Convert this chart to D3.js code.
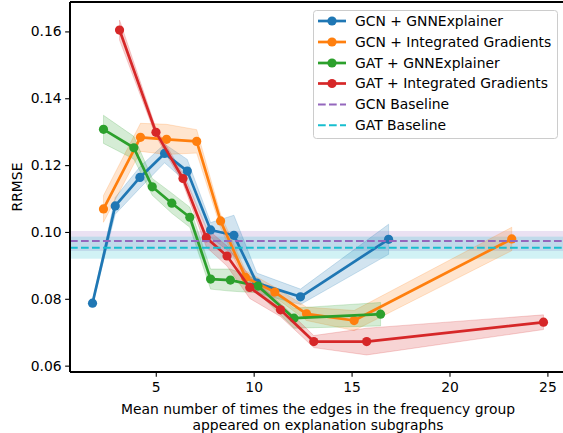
<!DOCTYPE html>
<html>
<head>
<meta charset="utf-8">
<script src="https://cdn.jsdelivr.net/npm/d3@7"></script>
<style>
  html, body { margin: 0; padding: 0; background: #fff; }
  svg { display: block; font-family: "DejaVu Sans", sans-serif; }
</style>
</head>
<body>
<svg id="chart" width="563" height="433"></svg>
<script>
// Mean edge-appearance counts (x), RRMSE means (y) and spreads (err) per setup
const gcnGnnX   = [1.77, 2.93, 4.19, 5.45, 6.61, 7.80, 8.99, 10.16, 12.39, 16.89];
const gcnGnnY   = [0.0787, 0.1078, 0.1163, 0.1235, 0.1182, 0.1006, 0.0990, 0.0847, 0.0806, 0.0978];
const gcnGnnErr = [0.0005, 0.0025, 0.0032, 0.0028, 0.0035, 0.0022, 0.0060, 0.0030, 0.0023, 0.0045];

const gcnIgX    = [2.33, 4.22, 5.55, 7.09, 8.31, 9.58, 11.08, 12.70, 15.13, 23.18];
const gcnIgY    = [0.1069, 0.1283, 0.1277, 0.1271, 0.1033, 0.0864, 0.0820, 0.0755, 0.0735, 0.0979];
const gcnIgErr  = [0.0040, 0.0042, 0.0045, 0.0035, 0.0020, 0.0020, 0.0015, 0.0020, 0.0030, 0.0035];

const gatGnnX   = [2.33, 3.88, 4.82, 5.82, 6.74, 7.80, 8.81, 10.22, 12.06, 16.48];
const gatGnnY   = [0.1307, 0.1252, 0.1135, 0.1086, 0.1044, 0.0859, 0.0856, 0.0838, 0.0742, 0.0754];
const gatGnnErr = [0.0042, 0.0034, 0.0025, 0.0030, 0.0030, 0.0030, 0.0033, 0.0020, 0.0030, 0.0035];

const gatIgX    = [3.15, 5.01, 6.39, 7.58, 8.64, 9.80, 11.37, 13.07, 15.77, 24.80];
const gatIgY    = [0.1604, 0.1298, 0.1160, 0.0983, 0.0928, 0.0834, 0.0767, 0.0672, 0.0672, 0.0730];
const gatIgErr  = [0.0030, 0.0012, 0.0015, 0.0028, 0.0030, 0.0033, 0.0020, 0.0018, 0.0040, 0.0022];

// Baseline RRMSE with its spread
const baselineNames = ["GCN Baseline", "GAT Baseline"];
const baselineMean  = [0.0973, 0.0953];
const baselineErr   = [0.0030, 0.0033];

const seriesNames = ["GCN + GNNExplainer", "GCN + Integrated Gradients",
                     "GAT + GNNExplainer", "GAT + Integrated Gradients"];
const xTicks = [5, 10, 15, 20, 25];
const yTicks = [0.06, 0.08, 0.10, 0.12, 0.14, 0.16];

const seriesColors   = ["#1f77b4", "#ff7f0e", "#2ca02c", "#d62728"];
const baselineColors = ["#9467bd", "#17becf"];

const series = [
  { name: seriesNames[0], x: gcnGnnX, y: gcnGnnY, e: gcnGnnErr, color: seriesColors[0] },
  { name: seriesNames[1], x: gcnIgX,  y: gcnIgY,  e: gcnIgErr,  color: seriesColors[1] },
  { name: seriesNames[2], x: gatGnnX, y: gatGnnY, e: gatGnnErr, color: seriesColors[2] },
  { name: seriesNames[3], x: gatIgX,  y: gatIgY,  e: gatIgErr,  color: seriesColors[3] }
].map(s => ({ ...s, pts: s.x.map((xv, i) => ({ x: xv, y: s.y[i], e: s.e[i] })) }));

const baselines = baselineNames.map((n, i) => ({
  name: n, mean: baselineMean[i], err: baselineErr[i], color: baselineColors[i]
}));

// Layout
const plotLeft = 70, plotRight = 566, plotTop = 2, plotBottom = 372;
const fs = 13.9;

const svg = d3.select("#chart");

const x = d3.scaleLinear().domain([0.62, 25.95]).range([plotLeft, plotRight]);
const y = d3.scaleLinear().domain([0.0581, 0.1688]).range([plotBottom, plotTop]);

svg.append("defs").append("clipPath").attr("id", "plotClip")
  .append("rect").attr("x", plotLeft).attr("y", plotTop)
  .attr("width", plotRight - plotLeft).attr("height", plotBottom - plotTop);

const plot = svg.append("g").attr("clip-path", "url(#plotClip)");

// Shaded spreads: baselines first, then each series
baselines.forEach(b => {
  plot.append("rect")
    .attr("x", plotLeft).attr("width", plotRight - plotLeft)
    .attr("y", y(b.mean + b.err))
    .attr("height", y(b.mean - b.err) - y(b.mean + b.err))
    .attr("fill", b.color).attr("fill-opacity", 0.2);
});

const area = d3.area()
  .x(d => x(d.x)).y0(d => y(d.y - d.e)).y1(d => y(d.y + d.e));

series.forEach(s => {
  plot.append("path").datum(s.pts).attr("d", area)
    .attr("fill", s.color).attr("fill-opacity", 0.2)
    .attr("stroke", s.color).attr("stroke-opacity", 0.2).attr("stroke-width", 1);
});

// Lines with markers
const line = d3.line().x(d => x(d.x)).y(d => y(d.y));
series.forEach(s => {
  const g = plot.append("g");
  g.append("path").datum(s.pts).attr("d", line)
    .attr("fill", "none").attr("stroke", s.color)
    .attr("stroke-width", 2.7).attr("stroke-linejoin", "round").attr("stroke-linecap", "square");
  g.selectAll("circle").data(s.pts).join("circle")
    .attr("cx", d => x(d.x)).attr("cy", d => y(d.y)).attr("r", 4.6)
    .attr("fill", s.color);
});

// Dashed baseline lines
baselines.forEach(b => {
  plot.append("line")
    .attr("x1", plotLeft).attr("x2", plotRight)
    .attr("y1", y(b.mean)).attr("y2", y(b.mean))
    .attr("stroke", b.color).attr("stroke-width", 2)
    .attr("stroke-dasharray", "7.7,3.3");
});

// Axes
const xAxis = d3.axisBottom(x).tickValues(xTicks).tickFormat(d3.format("d"))
  .tickSize(4.86).tickPadding(5.5).tickSizeOuter(0);
const yAxis = d3.axisLeft(y).tickValues(yTicks).tickFormat(d3.format(".2f"))
  .tickSize(4.86).tickPadding(3.5).tickSizeOuter(0);

const gx = svg.append("g").attr("transform", `translate(0,${plotBottom})`).call(xAxis);
const gy = svg.append("g").attr("transform", `translate(${plotLeft},0)`).call(yAxis);
[gx, gy].forEach(g => {
  g.select(".domain").remove();
  g.selectAll(".tick line").attr("stroke", "#000").attr("stroke-width", 1.1);
  g.selectAll(".tick text").attr("fill", "#000")
    .style("font-size", fs + "px").style("font-family", "DejaVu Sans, sans-serif");
});

// Spines
const spines = svg.append("g").attr("stroke", "#000").attr("stroke-width", 1.1)
  .attr("shape-rendering", "crispEdges");
spines.append("line").attr("x1", plotLeft).attr("x2", plotLeft).attr("y1", plotTop).attr("y2", plotBottom);
spines.append("line").attr("x1", plotLeft).attr("x2", plotRight).attr("y1", plotBottom).attr("y2", plotBottom);
spines.append("line").attr("x1", plotLeft).attr("x2", plotRight).attr("y1", plotTop).attr("y2", plotTop);
spines.append("line").attr("x1", plotRight).attr("x2", plotRight).attr("y1", plotTop).attr("y2", plotBottom);

// Axis titles
const cx = (plotLeft + plotRight) / 2;
const xt = svg.append("text").attr("text-anchor", "middle")
  .style("font-size", fs + "px").attr("fill", "#000");
xt.append("tspan").attr("x", cx).attr("y", 414)
  .text("Mean number of times the edges in the frequency group");
xt.append("tspan").attr("x", cx).attr("y", 430)
  .text("appeared on explanation subgraphs");

svg.append("text").attr("text-anchor", "middle")
  .attr("transform", `translate(22,${(plotTop + plotBottom) / 2}) rotate(-90)`)
  .style("font-size", fs + "px").attr("fill", "#000").text("RRMSE");

// Legend
const lg = svg.append("g");
lg.append("rect").attr("x", 313.5).attr("y", 10.5).attr("width", 244).attr("height", 128)
  .attr("rx", 3).attr("fill", "#fff").attr("fill-opacity", 0.8)
  .attr("stroke", "#cccccc").attr("stroke-width", 1);

const rowY = [21, 42, 63, 83.5, 104.5, 125.3];
const entries = series.map(s => ({ name: s.name, color: s.color, marker: true }))
  .concat(baselines.map(b => ({ name: b.name, color: b.color, marker: false })));

entries.forEach((e, i) => {
  const ry = rowY[i];
  if (e.marker) {
    lg.append("line").attr("x1", 318).attr("x2", 346).attr("y1", ry).attr("y2", ry)
      .attr("stroke", e.color).attr("stroke-width", 2.7);
    lg.append("circle").attr("cx", 332).attr("cy", ry).attr("r", 4.6).attr("fill", e.color);
  } else {
    lg.append("line").attr("x1", 318).attr("x2", 346).attr("y1", ry).attr("y2", ry)
      .attr("stroke", e.color).attr("stroke-width", 2)
      .attr("stroke-dasharray", "7.7,3.3");
  }
  lg.append("text").attr("x", 355).attr("y", ry).attr("dy", "0.35em")
    .style("font-size", fs + "px").attr("fill", "#000").text(e.name);
});
</script>
</body>
</html>
